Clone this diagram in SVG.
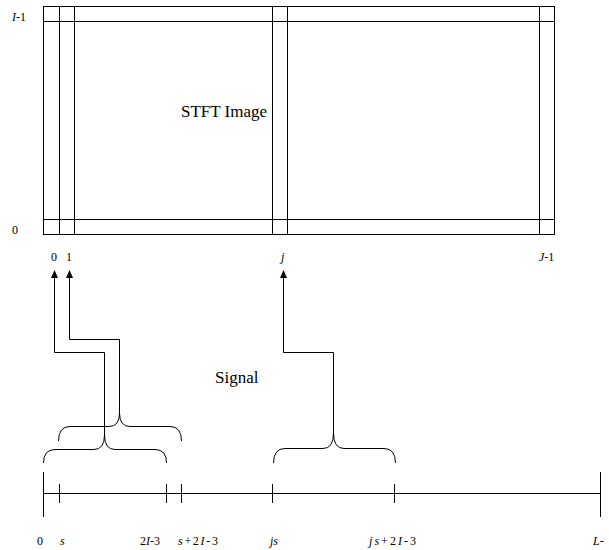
<svg xmlns="http://www.w3.org/2000/svg" width="609" height="550" viewBox="0 0 609 550">
<style>
.ln{stroke:#000;stroke-width:1;fill:none}
.t{font-size:12px}
.big{font-size:17px}
.i{font-style:italic}
</style>
<defs>
<marker id="ah" markerWidth="8" markerHeight="7" refX="7" refY="3.5" orient="auto" markerUnits="userSpaceOnUse" viewBox="0 0 8 7">
<path d="M0,0 L8,3.5 L0,7 Z" fill="#000"/>
</marker>
</defs>
<rect width="609" height="550" fill="#fff"/>
<g id="stft-image" font-family="Times New Roman, Liberation Serif, DejaVu Serif, serif" fill="#000">
<rect class="ln" x="43.5" y="6.5" width="511" height="228"/>
<line class="ln" x1="43.5" y1="21.5" x2="554.5" y2="21.5"/>
<line class="ln" x1="43.5" y1="219.5" x2="554.5" y2="219.5"/>
<line class="ln" x1="59.5" y1="6.5" x2="59.5" y2="234.5"/>
<line class="ln" x1="74.5" y1="6.5" x2="74.5" y2="234.5"/>
<line class="ln" x1="272.5" y1="6.5" x2="272.5" y2="234.5"/>
<line class="ln" x1="287.5" y1="6.5" x2="287.5" y2="234.5"/>
<line class="ln" x1="539.5" y1="6.5" x2="539.5" y2="234.5"/>
<text class="big" x="181" y="117">STFT Image</text>
<text class="t" x="12" y="21"><tspan class="i">I</tspan>-1</text>
<text class="t" x="12" y="234">0</text>
<text class="t" x="51" y="261">0</text>
<text class="t" x="66" y="261">1</text>
<text class="t i" x="281" y="261">j</text>
<text class="t" x="539" y="261"><tspan class="i">J</tspan>-1</text>
</g>
<g id="signal" font-family="Times New Roman, Liberation Serif, DejaVu Serif, serif" fill="#000">
<line class="ln" x1="43.5" y1="493.5" x2="600.5" y2="493.5"/>
<line class="ln" x1="43.5" y1="472" x2="43.5" y2="517"/>
<line class="ln" x1="600.5" y1="472" x2="600.5" y2="517"/>
<line class="ln" x1="59.5" y1="484" x2="59.5" y2="503"/>
<line class="ln" x1="166.5" y1="484" x2="166.5" y2="503"/>
<line class="ln" x1="181.5" y1="484" x2="181.5" y2="503"/>
<line class="ln" x1="272.5" y1="484" x2="272.5" y2="503"/>
<line class="ln" x1="394.5" y1="484" x2="394.5" y2="503"/>
<text class="big" x="215" y="383">Signal</text>
<text class="t" x="37" y="545">0</text>
<text class="t i" x="60" y="545">s</text>
<text class="t" x="140" y="545">2<tspan class="i">I</tspan>-3</text>
<text class="t" x="178" y="545" textLength="40" lengthAdjust="spacing"><tspan class="i">s</tspan>+2<tspan class="i">I</tspan>-3</text>
<text class="t i" x="270" y="545">js</text>
<text class="t" x="369" y="545" textLength="47" lengthAdjust="spacing"><tspan class="i">js</tspan>+2<tspan class="i">I</tspan>-3</text>
<text class="t" x="593" y="545"><tspan class="i">L</tspan>-</text>
</g>
<g id="braces">
<path class="ln" d="M43.5,463 Q43.5,449.5 55,449.5 L94,449.5 Q104.5,449.5 104.5,435 Q104.5,449.5 115,449.5 L155,449.5 Q166.5,449.5 166.5,463"/>
<path class="ln" d="M58.5,441 Q58.5,426.5 70,426.5 L109,426.5 Q119.5,426.5 119.5,413 Q119.5,426.5 130,426.5 L170,426.5 Q181.5,426.5 181.5,441"/>
<path class="ln" d="M273.5,463 Q273.5,448.5 285,448.5 L323,448.5 Q333.5,448.5 333.5,433 Q333.5,448.5 344,448.5 L384,448.5 Q395.5,448.5 395.5,463"/>
</g>
<g id="connectors">
<polyline class="ln" points="104.5,435 104.5,352.5 54.5,352.5 54.5,271" marker-end="url(#ah)"/>
<polyline class="ln" points="119.5,413 119.5,339.5 69.5,339.5 69.5,271" marker-end="url(#ah)"/>
<polyline class="ln" points="333.5,433 333.5,352.5 283.5,352.5 283.5,271" marker-end="url(#ah)"/>
</g>
</svg>
